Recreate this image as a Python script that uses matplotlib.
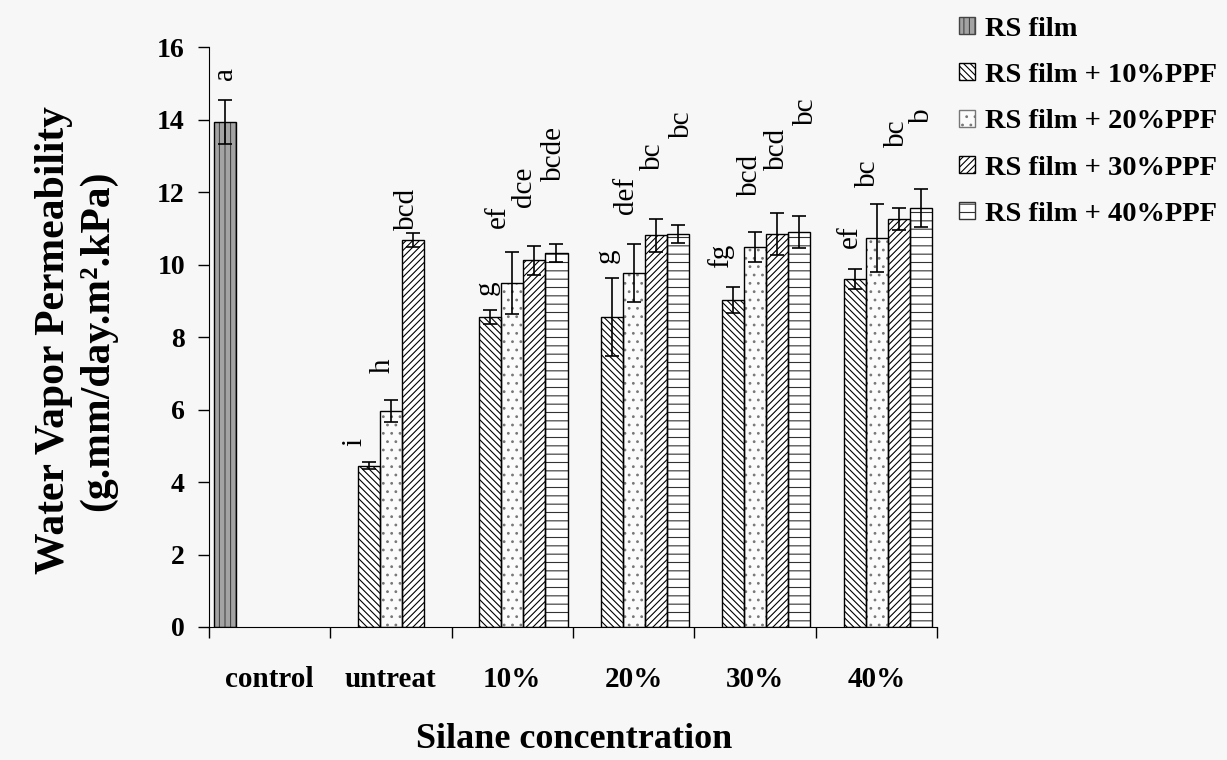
import numpy as np
import matplotlib
matplotlib.use("Agg")
import matplotlib.pyplot as plt
from matplotlib.ticker import FixedLocator, NullFormatter

nan = np.nan

categories = ["control", "untreat", "10%", "20%", "30%", "40%"]
series_names = ["RS film", "RS film + 10%PPF", "RS film + 20%PPF",
                "RS film + 30%PPF", "RS film + 40%PPF"]

# mean WVP per silane treatment, nan = not measured
rs_film = [13.93, nan, nan, nan, nan, nan]
ppf10 = [nan, 4.45, 8.55, 8.55, 9.02, 9.60]
ppf20 = [nan, 5.96, 9.49, 9.77, 10.48, 10.73]
ppf30 = [nan, 10.68, 10.12, 10.81, 10.84, 11.26]
ppf40 = [nan, nan, 10.32, 10.84, 10.90, 11.56]

# standard deviations
rs_film_sd = [0.60, nan, nan, nan, nan, nan]
ppf10_sd = [nan, 0.10, 0.20, 1.07, 0.35, 0.28]
ppf20_sd = [nan, 0.30, 0.85, 0.80, 0.42, 0.94]
ppf30_sd = [nan, 0.20, 0.40, 0.45, 0.58, 0.30]
ppf40_sd = [nan, nan, 0.25, 0.25, 0.44, 0.52]

# Duncan groupings
rs_film_sig = ["a", "", "", "", "", ""]
ppf10_sig = ["", "i", "g", "g", "fg", "ef"]
ppf20_sig = ["", "h", "ef", "def", "bcd", "bc"]
ppf30_sig = ["", "bcd", "dce", "bc", "bcd", "bc"]
ppf40_sig = ["", "", "bcde", "bc", "bc", "b"]

# letter placement: start height (data units) and sideways nudge (pixels)
rs_film_lab_y = [15.1, nan, nan, nan, nan, nan]
ppf10_lab_y = [nan, 5.0, 9.15, 10.05, 9.9, 10.45]
ppf20_lab_y = [nan, 7.0, 11.0, 11.4, 11.9, 12.15]
ppf30_lab_y = [nan, 10.95, 11.6, 12.6, 12.6, 13.25]
ppf40_lab_y = [nan, nan, 12.3, 13.5, 13.85, 13.9]
rs_film_lab_dx = [0, 0, 0, 0, 0, 0]
ppf10_lab_dx = [0, -14, -3, -5, -13, -5]
ppf20_lab_dx = [0, -8, -14, -8, -5, -9]
ppf30_lab_dx = [0, -6, -10, -3, 0, -2]
ppf40_lab_dx = [0, 0, -3, 4, 7, 1]

means = [rs_film, ppf10, ppf20, ppf30, ppf40]
sds = [rs_film_sd, ppf10_sd, ppf20_sd, ppf30_sd, ppf40_sd]
sigs = [rs_film_sig, ppf10_sig, ppf20_sig, ppf30_sig, ppf40_sig]
lab_ys = [rs_film_lab_y, ppf10_lab_y, ppf20_lab_y, ppf30_lab_y, ppf40_lab_y]
lab_dxs = [rs_film_lab_dx, ppf10_lab_dx, ppf20_lab_dx, ppf30_lab_dx, ppf40_lab_dx]

hatches = ["|||", "\\\\\\\\\\", "..", "/////", "--"]
faces = ["#a3a3a3", "white", "#fbfbfb", "white", "white"]
hatch_cols = ["#444444", "black", "#777777", "black", "#333333"]

plt.rcParams["font.family"] = ["Liberation Serif", "DejaVu Serif"]
plt.rcParams["hatch.linewidth"] = 0.8
bg = "#f7f7f7"

fig = plt.figure(figsize=(12.27, 7.6), dpi=100, facecolor=bg)
ax = fig.add_axes([0.170, 0.175, 0.594, 0.763], facecolor=bg)

x = np.arange(len(categories))
w = 0.182
px = 1.0 / (0.594 * 1227)  # one pixel in category units
handles = []
for j in range(5):
    pos = x + (j - 2) * w
    # hatch drawn in its own colour, outline on top in black
    ax.bar(pos, means[j], w, color=faces[j], edgecolor=hatch_cols[j],
           hatch=hatches[j], linewidth=0, zorder=2)
    ax.bar(pos, means[j], w, fill=False, edgecolor="black", linewidth=1.0, zorder=2.5)
    handles.append(plt.Rectangle((0, 0), 1, 1, facecolor=faces[j],
                                 edgecolor=hatch_cols[j], hatch=hatches[j],
                                 linewidth=1.0))
    ax.errorbar(pos, means[j], yerr=sds[j], fmt="none", ecolor="black",
                elinewidth=1.2, capsize=5, capthick=1.2, zorder=3)
    for i in range(len(categories)):
        if sigs[j][i]:
            ax.text(pos[i] + lab_dxs[j][i] * px * 6, lab_ys[j][i], sigs[j][i],
                    rotation=90, ha="center", va="bottom", fontsize=21, zorder=4)

ax.set_xlim(-0.5, len(categories) - 0.5)
ax.set_ylim(0, 16)
ax.set_yticks(np.arange(0, 17, 2))
ax.xaxis.set_major_locator(FixedLocator(np.arange(-0.5, len(categories), 1.0)))
ax.xaxis.set_major_formatter(NullFormatter())
ax.xaxis.set_minor_locator(FixedLocator(x))
ax.set_xticklabels(categories, minor=True)
ax.tick_params(axis="x", which="major", direction="out", length=8, width=1)
ax.tick_params(axis="x", which="minor", length=0, pad=28, labelsize=21)
ax.tick_params(axis="y", direction="out", length=8, width=1, labelsize=20, pad=9)
for lab in ax.get_yticklabels() + ax.get_xticklabels(minor=True):
    lab.set_fontweight("bold")
for side in ["top", "right"]:
    ax.spines[side].set_visible(False)

fig.text(0.062, 0.552, "Water Vapor Permeability\n(g.mm/day.m\u00b2.kPa)",
         rotation=90, ha="center", va="center", fontsize=30, fontweight="bold",
         linespacing=1.2)
fig.text(0.468, 0.027, "Silane concentration", ha="center", va="center",
         fontsize=26, fontweight="bold")

fig.legend(handles, series_names, loc="upper left", bbox_to_anchor=(0.761, 1.012),
           frameon=False, handlelength=0.55, handleheight=0.55, handletextpad=0.35,
           labelspacing=0.75, prop={"weight": "bold", "size": 20.5})

fig.savefig("out.png", dpi=100, facecolor=bg)
